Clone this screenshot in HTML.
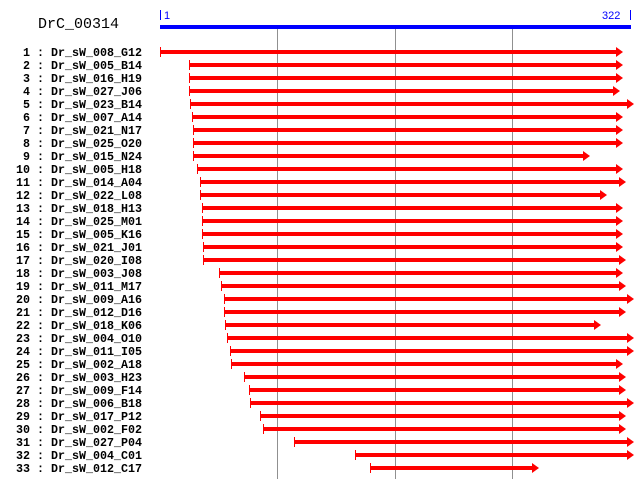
<!DOCTYPE html>
<html>
<head>
<meta charset="utf-8">
<style>
html,body{margin:0;padding:0;background:#fff;}
svg{display:block;}
.lab{font-family:"Liberation Mono",monospace;font-weight:bold;font-size:11.67px;fill:#000;}
.ttl{font-family:"Liberation Mono",monospace;font-size:15px;fill:#000;}
.sc{font-family:"Liberation Sans",sans-serif;font-size:11px;fill:#0000ff;}
.r{fill:#ff0000;}
</style>
</head>
<body>
<svg width="640" height="489" viewBox="0 0 640 489" xmlns="http://www.w3.org/2000/svg">
<rect x="0" y="0" width="640" height="489" fill="#fff"/>
<text class="ttl" x="38" y="28">DrC_00314</text>
<g shape-rendering="crispEdges">
<rect x="160" y="10" width="1" height="10" fill="#0000ff"/>
<rect x="630" y="10" width="1" height="10" fill="#0000ff"/>
<rect x="160" y="25" width="471" height="4" fill="#0000ff"/>
<rect x="277" y="29" width="1" height="450" fill="#909090"/>
<rect x="395" y="29" width="1" height="450" fill="#909090"/>
<rect x="512" y="29" width="1" height="450" fill="#909090"/>
</g>
<text class="sc" x="164" y="19">1</text>
<text class="sc" x="602" y="19">322</text>

<g transform="translate(0,0)"><rect class="r" x="160" y="50" width="456" height="4"/><rect class="r" x="160" y="47" width="1" height="10"/><polygon class="r" points="616,47 623,52 616,57"/><text class="lab" x="30" y="56" text-anchor="end">1</text><text class="lab" x="37" y="56">:</text><text class="lab" x="51" y="56">Dr_sW_008_G12</text></g>
<g transform="translate(0,13)"><rect class="r" x="189" y="50" width="427" height="4"/><rect class="r" x="189" y="47" width="1" height="10"/><polygon class="r" points="616,47 623,52 616,57"/><text class="lab" x="30" y="56" text-anchor="end">2</text><text class="lab" x="37" y="56">:</text><text class="lab" x="51" y="56">Dr_sW_005_B14</text></g>
<g transform="translate(0,26)"><rect class="r" x="189" y="50" width="427" height="4"/><rect class="r" x="189" y="47" width="1" height="10"/><polygon class="r" points="616,47 623,52 616,57"/><text class="lab" x="30" y="56" text-anchor="end">3</text><text class="lab" x="37" y="56">:</text><text class="lab" x="51" y="56">Dr_sW_016_H19</text></g>
<g transform="translate(0,39)"><rect class="r" x="189" y="50" width="424" height="4"/><rect class="r" x="189" y="47" width="1" height="10"/><polygon class="r" points="613,47 620,52 613,57"/><text class="lab" x="30" y="56" text-anchor="end">4</text><text class="lab" x="37" y="56">:</text><text class="lab" x="51" y="56">Dr_sW_027_J06</text></g>
<g transform="translate(0,52)"><rect class="r" x="190" y="50" width="437" height="4"/><rect class="r" x="190" y="47" width="1" height="10"/><polygon class="r" points="627,47 634,52 627,57"/><text class="lab" x="30" y="56" text-anchor="end">5</text><text class="lab" x="37" y="56">:</text><text class="lab" x="51" y="56">Dr_sW_023_B14</text></g>
<g transform="translate(0,65)"><rect class="r" x="192" y="50" width="424" height="4"/><rect class="r" x="192" y="47" width="1" height="10"/><polygon class="r" points="616,47 623,52 616,57"/><text class="lab" x="30" y="56" text-anchor="end">6</text><text class="lab" x="37" y="56">:</text><text class="lab" x="51" y="56">Dr_sW_007_A14</text></g>
<g transform="translate(0,78)"><rect class="r" x="193" y="50" width="423" height="4"/><rect class="r" x="193" y="47" width="1" height="10"/><polygon class="r" points="616,47 623,52 616,57"/><text class="lab" x="30" y="56" text-anchor="end">7</text><text class="lab" x="37" y="56">:</text><text class="lab" x="51" y="56">Dr_sW_021_N17</text></g>
<g transform="translate(0,91)"><rect class="r" x="193" y="50" width="423" height="4"/><rect class="r" x="193" y="47" width="1" height="10"/><polygon class="r" points="616,47 623,52 616,57"/><text class="lab" x="30" y="56" text-anchor="end">8</text><text class="lab" x="37" y="56">:</text><text class="lab" x="51" y="56">Dr_sW_025_O20</text></g>
<g transform="translate(0,104)"><rect class="r" x="193" y="50" width="390" height="4"/><rect class="r" x="193" y="47" width="1" height="10"/><polygon class="r" points="583,47 590,52 583,57"/><text class="lab" x="30" y="56" text-anchor="end">9</text><text class="lab" x="37" y="56">:</text><text class="lab" x="51" y="56">Dr_sW_015_N24</text></g>
<g transform="translate(0,117)"><rect class="r" x="197" y="50" width="419" height="4"/><rect class="r" x="197" y="47" width="1" height="10"/><polygon class="r" points="616,47 623,52 616,57"/><text class="lab" x="30" y="56" text-anchor="end">10</text><text class="lab" x="37" y="56">:</text><text class="lab" x="51" y="56">Dr_sW_005_H18</text></g>
<g transform="translate(0,130)"><rect class="r" x="200" y="50" width="419" height="4"/><rect class="r" x="200" y="47" width="1" height="10"/><polygon class="r" points="619,47 626,52 619,57"/><text class="lab" x="30" y="56" text-anchor="end">11</text><text class="lab" x="37" y="56">:</text><text class="lab" x="51" y="56">Dr_sW_014_A04</text></g>
<g transform="translate(0,143)"><rect class="r" x="200" y="50" width="400" height="4"/><rect class="r" x="200" y="47" width="1" height="10"/><polygon class="r" points="600,47 607,52 600,57"/><text class="lab" x="30" y="56" text-anchor="end">12</text><text class="lab" x="37" y="56">:</text><text class="lab" x="51" y="56">Dr_sW_022_L08</text></g>
<g transform="translate(0,156)"><rect class="r" x="202" y="50" width="414" height="4"/><rect class="r" x="202" y="47" width="1" height="10"/><polygon class="r" points="616,47 623,52 616,57"/><text class="lab" x="30" y="56" text-anchor="end">13</text><text class="lab" x="37" y="56">:</text><text class="lab" x="51" y="56">Dr_sW_018_H13</text></g>
<g transform="translate(0,169)"><rect class="r" x="202" y="50" width="414" height="4"/><rect class="r" x="202" y="47" width="1" height="10"/><polygon class="r" points="616,47 623,52 616,57"/><text class="lab" x="30" y="56" text-anchor="end">14</text><text class="lab" x="37" y="56">:</text><text class="lab" x="51" y="56">Dr_sW_025_M01</text></g>
<g transform="translate(0,182)"><rect class="r" x="202" y="50" width="414" height="4"/><rect class="r" x="202" y="47" width="1" height="10"/><polygon class="r" points="616,47 623,52 616,57"/><text class="lab" x="30" y="56" text-anchor="end">15</text><text class="lab" x="37" y="56">:</text><text class="lab" x="51" y="56">Dr_sW_005_K16</text></g>
<g transform="translate(0,195)"><rect class="r" x="203" y="50" width="413" height="4"/><rect class="r" x="203" y="47" width="1" height="10"/><polygon class="r" points="616,47 623,52 616,57"/><text class="lab" x="30" y="56" text-anchor="end">16</text><text class="lab" x="37" y="56">:</text><text class="lab" x="51" y="56">Dr_sW_021_J01</text></g>
<g transform="translate(0,208)"><rect class="r" x="203" y="50" width="416" height="4"/><rect class="r" x="203" y="47" width="1" height="10"/><polygon class="r" points="619,47 626,52 619,57"/><text class="lab" x="30" y="56" text-anchor="end">17</text><text class="lab" x="37" y="56">:</text><text class="lab" x="51" y="56">Dr_sW_020_I08</text></g>
<g transform="translate(0,221)"><rect class="r" x="219" y="50" width="397" height="4"/><rect class="r" x="219" y="47" width="1" height="10"/><polygon class="r" points="616,47 623,52 616,57"/><text class="lab" x="30" y="56" text-anchor="end">18</text><text class="lab" x="37" y="56">:</text><text class="lab" x="51" y="56">Dr_sW_003_J08</text></g>
<g transform="translate(0,234)"><rect class="r" x="221" y="50" width="398" height="4"/><rect class="r" x="221" y="47" width="1" height="10"/><polygon class="r" points="619,47 626,52 619,57"/><text class="lab" x="30" y="56" text-anchor="end">19</text><text class="lab" x="37" y="56">:</text><text class="lab" x="51" y="56">Dr_sW_011_M17</text></g>
<g transform="translate(0,247)"><rect class="r" x="224" y="50" width="403" height="4"/><rect class="r" x="224" y="47" width="1" height="10"/><polygon class="r" points="627,47 634,52 627,57"/><text class="lab" x="30" y="56" text-anchor="end">20</text><text class="lab" x="37" y="56">:</text><text class="lab" x="51" y="56">Dr_sW_009_A16</text></g>
<g transform="translate(0,260)"><rect class="r" x="224" y="50" width="395" height="4"/><rect class="r" x="224" y="47" width="1" height="10"/><polygon class="r" points="619,47 626,52 619,57"/><text class="lab" x="30" y="56" text-anchor="end">21</text><text class="lab" x="37" y="56">:</text><text class="lab" x="51" y="56">Dr_sW_012_D16</text></g>
<g transform="translate(0,273)"><rect class="r" x="225" y="50" width="369" height="4"/><rect class="r" x="225" y="47" width="1" height="10"/><polygon class="r" points="594,47 601,52 594,57"/><text class="lab" x="30" y="56" text-anchor="end">22</text><text class="lab" x="37" y="56">:</text><text class="lab" x="51" y="56">Dr_sW_018_K06</text></g>
<g transform="translate(0,286)"><rect class="r" x="227" y="50" width="400" height="4"/><rect class="r" x="227" y="47" width="1" height="10"/><polygon class="r" points="627,47 634,52 627,57"/><text class="lab" x="30" y="56" text-anchor="end">23</text><text class="lab" x="37" y="56">:</text><text class="lab" x="51" y="56">Dr_sW_004_O10</text></g>
<g transform="translate(0,299)"><rect class="r" x="230" y="50" width="397" height="4"/><rect class="r" x="230" y="47" width="1" height="10"/><polygon class="r" points="627,47 634,52 627,57"/><text class="lab" x="30" y="56" text-anchor="end">24</text><text class="lab" x="37" y="56">:</text><text class="lab" x="51" y="56">Dr_sW_011_I05</text></g>
<g transform="translate(0,312)"><rect class="r" x="231" y="50" width="385" height="4"/><rect class="r" x="231" y="47" width="1" height="10"/><polygon class="r" points="616,47 623,52 616,57"/><text class="lab" x="30" y="56" text-anchor="end">25</text><text class="lab" x="37" y="56">:</text><text class="lab" x="51" y="56">Dr_sW_002_A18</text></g>
<g transform="translate(0,325)"><rect class="r" x="244" y="50" width="375" height="4"/><rect class="r" x="244" y="47" width="1" height="10"/><polygon class="r" points="619,47 626,52 619,57"/><text class="lab" x="30" y="56" text-anchor="end">26</text><text class="lab" x="37" y="56">:</text><text class="lab" x="51" y="56">Dr_sW_003_H23</text></g>
<g transform="translate(0,338)"><rect class="r" x="249" y="50" width="370" height="4"/><rect class="r" x="249" y="47" width="1" height="10"/><polygon class="r" points="619,47 626,52 619,57"/><text class="lab" x="30" y="56" text-anchor="end">27</text><text class="lab" x="37" y="56">:</text><text class="lab" x="51" y="56">Dr_sW_009_F14</text></g>
<g transform="translate(0,351)"><rect class="r" x="250" y="50" width="377" height="4"/><rect class="r" x="250" y="47" width="1" height="10"/><polygon class="r" points="627,47 634,52 627,57"/><text class="lab" x="30" y="56" text-anchor="end">28</text><text class="lab" x="37" y="56">:</text><text class="lab" x="51" y="56">Dr_sW_006_B18</text></g>
<g transform="translate(0,364)"><rect class="r" x="260" y="50" width="359" height="4"/><rect class="r" x="260" y="47" width="1" height="10"/><polygon class="r" points="619,47 626,52 619,57"/><text class="lab" x="30" y="56" text-anchor="end">29</text><text class="lab" x="37" y="56">:</text><text class="lab" x="51" y="56">Dr_sW_017_P12</text></g>
<g transform="translate(0,377)"><rect class="r" x="263" y="50" width="356" height="4"/><rect class="r" x="263" y="47" width="1" height="10"/><polygon class="r" points="619,47 626,52 619,57"/><text class="lab" x="30" y="56" text-anchor="end">30</text><text class="lab" x="37" y="56">:</text><text class="lab" x="51" y="56">Dr_sW_002_F02</text></g>
<g transform="translate(0,390)"><rect class="r" x="294" y="50" width="333" height="4"/><rect class="r" x="294" y="47" width="1" height="10"/><polygon class="r" points="627,47 634,52 627,57"/><text class="lab" x="30" y="56" text-anchor="end">31</text><text class="lab" x="37" y="56">:</text><text class="lab" x="51" y="56">Dr_sW_027_P04</text></g>
<g transform="translate(0,403)"><rect class="r" x="355" y="50" width="272" height="4"/><rect class="r" x="355" y="47" width="1" height="10"/><polygon class="r" points="627,47 634,52 627,57"/><text class="lab" x="30" y="56" text-anchor="end">32</text><text class="lab" x="37" y="56">:</text><text class="lab" x="51" y="56">Dr_sW_004_C01</text></g>
<g transform="translate(0,416)"><rect class="r" x="370" y="50" width="162" height="4"/><rect class="r" x="370" y="47" width="1" height="10"/><polygon class="r" points="532,47 539,52 532,57"/><text class="lab" x="30" y="56" text-anchor="end">33</text><text class="lab" x="37" y="56">:</text><text class="lab" x="51" y="56">Dr_sW_012_C17</text></g>
</svg>
</body>
</html>
